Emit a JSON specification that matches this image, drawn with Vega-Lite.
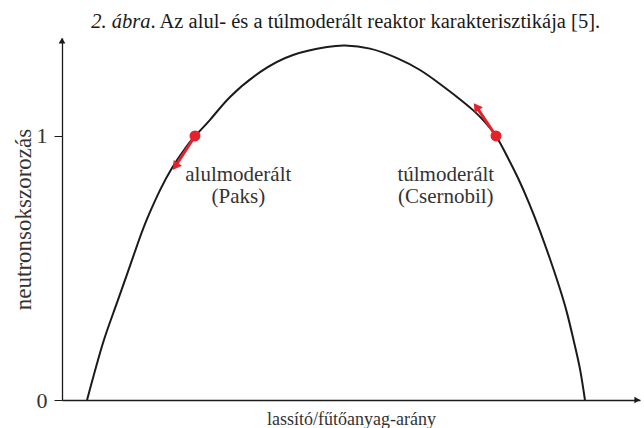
{
  "$schema": "https://vega.github.io/schema/vega-lite/v6.json",
  "width": 578,
  "height": 362,
  "autosize": {"type": "none"},
  "padding": {"left": 62, "top": 38, "right": 4, "bottom": 28},
  "background": "white",
  "config": {"view": {"stroke": null}, "font": "Liberation Serif", "axis": {"grid": false}},
  "datasets": {
    "curve": [
      {"x": 0.433, "y": 0},
      {"x": 0.709, "y": 0.216},
      {"x": 0.969, "y": 0.379},
      {"x": 1.332, "y": 0.606},
      {"x": 1.514, "y": 0.708},
      {"x": 1.696, "y": 0.795},
      {"x": 1.903, "y": 0.879},
      {"x": 2.111, "y": 0.947},
      {"x": 2.301, "y": 1.0},
      {"x": 2.561, "y": 1.061},
      {"x": 2.907, "y": 1.148},
      {"x": 3.426, "y": 1.242},
      {"x": 3.997, "y": 1.307},
      {"x": 4.585, "y": 1.337},
      {"x": 4.896, "y": 1.343},
      {"x": 5.329, "y": 1.331},
      {"x": 5.796, "y": 1.295},
      {"x": 6.194, "y": 1.25},
      {"x": 6.54, "y": 1.197},
      {"x": 6.834, "y": 1.148},
      {"x": 7.111, "y": 1.098},
      {"x": 7.318, "y": 1.053},
      {"x": 7.509, "y": 1.0},
      {"x": 7.699, "y": 0.924},
      {"x": 7.889, "y": 0.841},
      {"x": 8.08, "y": 0.746},
      {"x": 8.27, "y": 0.64},
      {"x": 8.443, "y": 0.534},
      {"x": 8.599, "y": 0.432},
      {"x": 8.737, "y": 0.33},
      {"x": 8.858, "y": 0.22},
      {"x": 8.962, "y": 0.117},
      {"x": 9.048, "y": 0}
    ],
    "states": [
      {"x": 2.301, "y": 1.0, "x2": 1.96, "y2": 0.885, "angle": 215, "label": ["alulmoderált", "(Paks)"], "lx": 3.05, "ly": 0.83},
      {"x": 7.509, "y": 1.0, "x2": 7.168, "y2": 1.111, "angle": 325, "label": ["túlmoderált", "(Csernobil)"], "lx": 6.64, "ly": 0.83}
    ],
    "titleItalic": [
      {"x": 1.53, "y": 1.41, "text": "2. ábra"}
    ],
    "titleRoman": [
      {"x": 1.53, "y": 1.41, "text": ". Az alul- és a túlmoderált reaktor karakterisztikája [5]."}
    ],
    "arrows": [
      {"x": 9.953, "y": 0, "angle": 90},
      {"x": 0, "y": 1.361, "angle": 0}
    ]
  },
  "layer": [
    {
      "data": {"name": "curve"},
      "mark": {"type": "line", "color": "#1a1a1a", "strokeWidth": 2, "interpolate": "natural"},
      "encoding": {
        "x": {
          "field": "x", "type": "quantitative",
          "scale": {"domain": [0, 10], "nice": false, "zero": false},
          "axis": {"title": "lassító/fűtőanyag-arány", "ticks": false, "labels": false, "domainColor": "#1a1a1a", "domainWidth": 1.3, "titleFontSize": 18, "titleFont": "Liberation Serif", "titleFontWeight": "normal", "titleColor": "#333", "titlePadding": 10}
        },
        "y": {
          "field": "y", "type": "quantitative",
          "scale": {"domain": [0, 1.3712], "nice": false, "zero": false},
          "axis": {"title": "neutronsokszorozás", "values": [0, 1], "format": "d", "tickSize": 8, "tickColor": "#1a1a1a", "domainColor": "#1a1a1a", "domainWidth": 1.3, "labelFontSize": 22, "labelFont": "Liberation Serif", "labelColor": "#333", "labelPadding": 7, "titleFontSize": 23, "titleFont": "Liberation Serif", "titleFontWeight": "normal", "titleColor": "#333", "titlePadding": 1}
        }
      }
    },
    {
      "mark": {"type": "rule", "strokeDash": [9, 6], "color": "#333", "strokeWidth": 1.4},
      "encoding": {"y": {"datum": 1, "type": "quantitative"}}
    },
    {
      "data": {"name": "arrows"},
      "mark": {"type": "point", "shape": "triangle-up", "filled": true, "color": "#1a1a1a", "size": 45, "opacity": 1},
      "encoding": {
        "x": {"field": "x", "type": "quantitative"},
        "y": {"field": "y", "type": "quantitative"},
        "angle": {"field": "angle", "type": "quantitative", "scale": null}
      }
    },
    {
      "data": {"name": "states"},
      "mark": {"type": "rule", "color": "#e3222b", "strokeWidth": 3},
      "encoding": {
        "x": {"field": "x", "type": "quantitative"},
        "y": {"field": "y", "type": "quantitative"},
        "x2": {"field": "x2"},
        "y2": {"field": "y2"}
      }
    },
    {
      "data": {"name": "states"},
      "mark": {"type": "point", "shape": "triangle-up", "filled": true, "color": "#e3222b", "size": 100, "opacity": 1},
      "encoding": {
        "x": {"field": "x2", "type": "quantitative"},
        "y": {"field": "y2", "type": "quantitative"},
        "angle": {"field": "angle", "type": "quantitative", "scale": null}
      }
    },
    {
      "data": {"name": "states"},
      "mark": {"type": "point", "shape": "circle", "filled": true, "color": "#e3222b", "size": 120, "opacity": 1},
      "encoding": {
        "x": {"field": "x", "type": "quantitative"},
        "y": {"field": "y", "type": "quantitative"}
      }
    },
    {
      "data": {"name": "states"},
      "mark": {"type": "text", "fontSize": 21, "color": "#333", "align": "center", "baseline": "alphabetic", "lineHeight": 22, "font": "Liberation Serif"},
      "encoding": {
        "x": {"field": "lx", "type": "quantitative"},
        "y": {"field": "ly", "type": "quantitative"},
        "text": {"field": "label"}
      }
    },
    {
      "data": {"name": "titleItalic"},
      "mark": {"type": "text", "fontSize": 20.5, "color": "#1a1a1a", "baseline": "alphabetic", "align": "right", "fontStyle": "italic", "font": "Liberation Serif"},
      "encoding": {
        "x": {"field": "x", "type": "quantitative"},
        "y": {"field": "y", "type": "quantitative"},
        "text": {"field": "text"}
      }
    },
    {
      "data": {"name": "titleRoman"},
      "mark": {"type": "text", "fontSize": 20.5, "color": "#1a1a1a", "baseline": "alphabetic", "align": "left", "font": "Liberation Serif"},
      "encoding": {
        "x": {"field": "x", "type": "quantitative"},
        "y": {"field": "y", "type": "quantitative"},
        "text": {"field": "text"}
      }
    }
  ]
}
